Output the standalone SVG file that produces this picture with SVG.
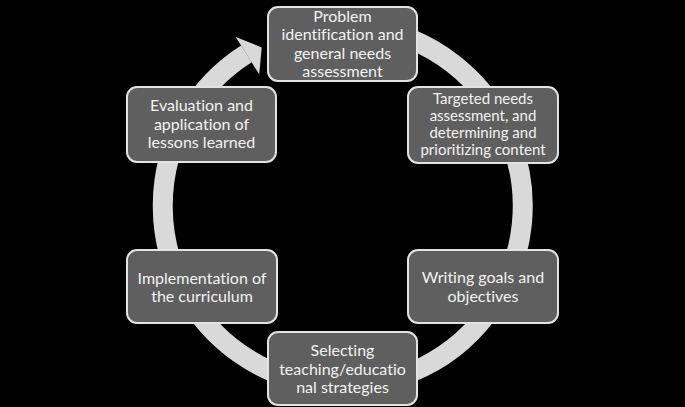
<svg xmlns="http://www.w3.org/2000/svg" width="685" height="407" viewBox="0 0 685 407">
<style>
.node rect{fill:#5f5f5f;stroke:#e3e3e3;stroke-width:2}
.node text{font-family:Lato,"Open Sans","Liberation Sans",sans-serif;font-size:16px;fill:#f2f2f2;text-anchor:middle;font-variant-ligatures:none}
.small text{font-size:15px}
</style>
<rect width="685" height="407" fill="#000"/>
<g id="connectors">
<path d="M280.9,36.9 A180,180 0 1 1 246.4,53.9" fill="none" stroke="#d9d9d9" stroke-width="20"/>
<polygon points="235.7,37 261.7,47.4 259.2,74.2" fill="#d9d9d9"/>
</g>
<g id="n1" class="node">
<rect x="268" y="7" width="149" height="74" rx="10"/>
<text x="342.5" y="22">Problem</text>
<text x="342.5" y="40">identification and</text>
<text x="342.5" y="58.5">general needs</text>
<text x="342.5" y="77">assessment</text>
</g>
<g id="n2" class="node small">
<rect x="408" y="87" width="150" height="76" rx="10"/>
<text x="483" y="104">Targeted needs</text>
<text x="483" y="121">assessment, and</text>
<text x="483" y="138">determining and</text>
<text x="483" y="155">prioritizing content</text>
</g>
<g id="n3" class="node">
<rect x="408" y="250" width="150" height="73" rx="10"/>
<text x="483" y="283">Writing goals and</text>
<text x="483" y="302">objectives</text>
</g>
<g id="n4" class="node">
<rect x="268" y="332" width="149" height="73" rx="10"/>
<text x="342.5" y="356">Selecting</text>
<text x="342.5" y="374.5">teaching/educatio</text>
<text x="342.5" y="393">nal strategies</text>
</g>
<g id="n5" class="node">
<rect x="127" y="250" width="150" height="73" rx="10"/>
<text x="202" y="284">Implementation of</text>
<text x="202" y="302">the curriculum</text>
</g>
<g id="n6" class="node">
<rect x="127" y="87" width="149" height="75" rx="10"/>
<text x="201.5" y="111">Evaluation and</text>
<text x="201.5" y="129.5">application of</text>
<text x="201.5" y="148">lessons learned</text>
</g>
</svg>
